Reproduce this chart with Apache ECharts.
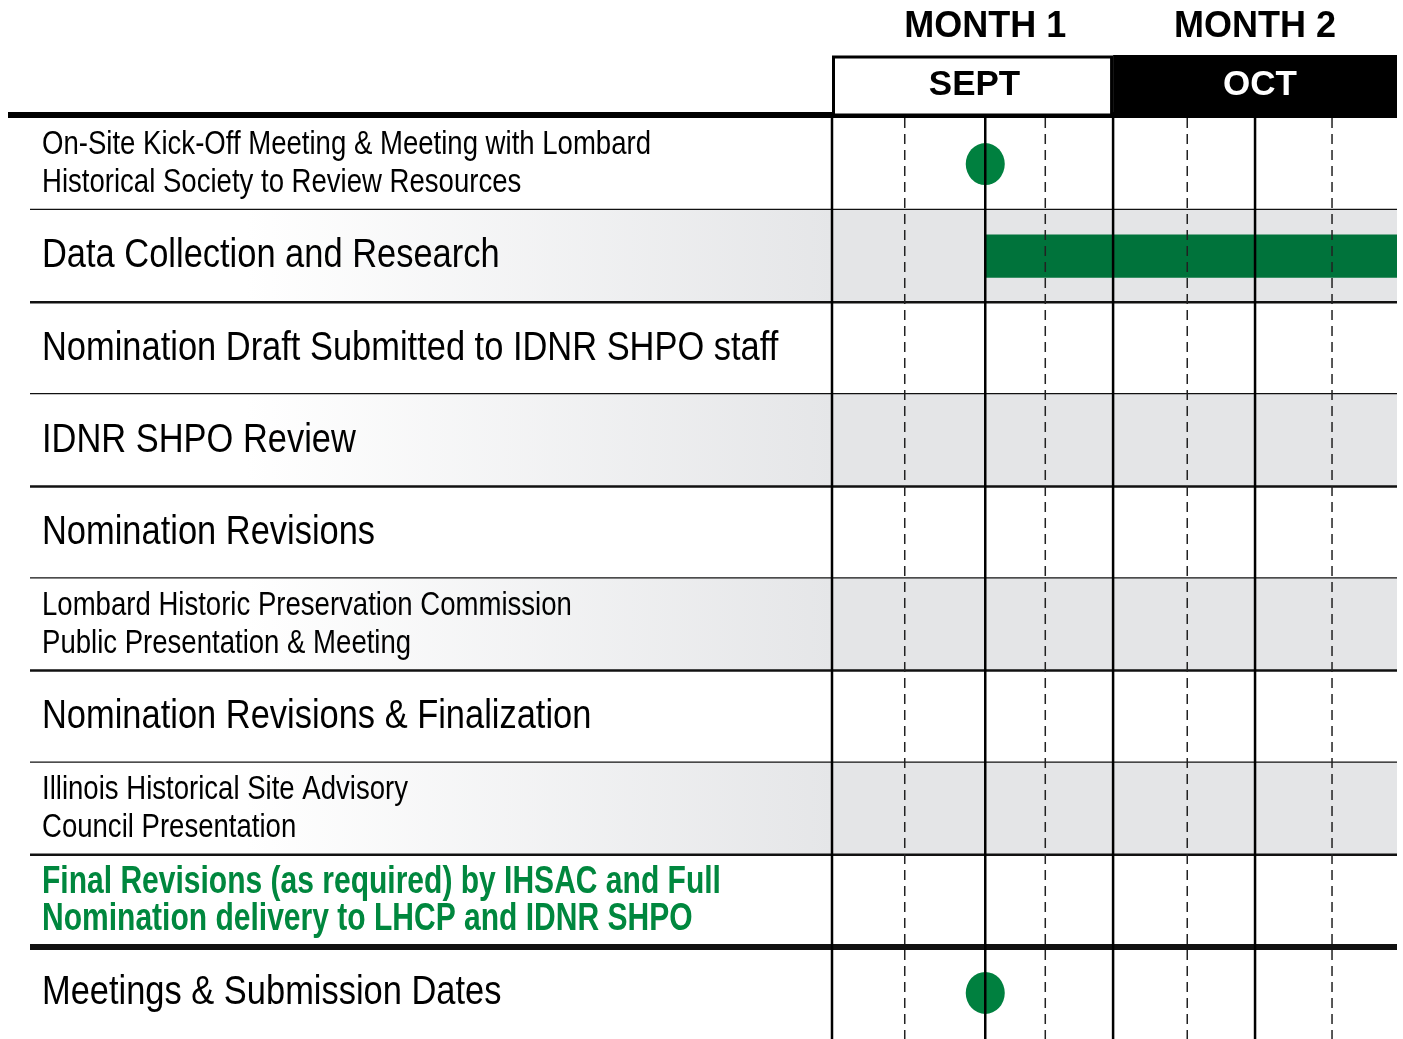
<!DOCTYPE html>
<html>
<head>
<meta charset="utf-8">
<script src="https://cdn.jsdelivr.net/npm/echarts@6/dist/echarts.min.js"></script>
<style>
html,body{margin:0;padding:0;background:#fff;}
#chart{width:1403px;height:1039px;}
</style>
</head>
<body>
<div id="chart"></div>
<script>
// ---- data ----
const tasks = [
  'On-Site Kick-Off Meeting & Meeting with Lombard\nHistorical Society to Review Resources',
  'Data Collection and Research',
  'Nomination Draft Submitted to IDNR SHPO staff',
  'IDNR SHPO Review',
  'Nomination Revisions',
  'Lombard Historic Preservation Commission\nPublic Presentation & Meeting',
  'Nomination Revisions & Finalization',
  'Illinois Historical Site Advisory\nCouncil Presentation',
  'Final Revisions (as required) by IHSAC and Full\nNomination delivery to LHCP and IDNR SHPO',
  'Meetings & Submission Dates'
];
const labelKind = ['s', 'b', 'b', 'b', 'b', 's', 'b', 's', 'g', 'b'];
const shadedRows = [1, 3, 5, 7];
const monthTitles = ['MONTH 1', 'MONTH 2'];
const monthNames = ['SEPT', 'OCT'];
const monthStart = [0, 3.98];
const monthEnd = [3.98, 8];
const monthTitleAt = [2.17, 5.99];
const weekLines = [0, 1.03, 2.17, 3.02, 3.98, 5.03, 5.99, 7.08];
const weekSolid = [1, 0, 1, 0, 1, 0, 1, 0];
const milestones = [[2.17, 0], [2.17, 9]];
const bars = [[2.17, 1, 8]];

// ---- style ----
const SANS = "'Liberation Sans','Arial','Helvetica',sans-serif";
const GREEN_TXT = '#00873e';
const labelStyle = {
  s: {font: '33px ' + SANS, lineHeight: 38, fill: '#000', scaleX: 0.835},
  b: {font: '41px ' + SANS, lineHeight: 48, fill: '#000', scaleX: 0.84},
  g: {font: 'bold 38px ' + SANS, lineHeight: 37, fill: GREEN_TXT, scaleX: 0.79}
};

const chart = echarts.init(document.getElementById('chart'), null, {renderer: 'canvas'});

const bgSeries = {
  type: 'custom', clip: false, silent: true, z: 1,
  data: tasks.map((t, i) => [0, i]),
  encode: {x: 0, y: 1},
  renderItem: function (params, api) {
    const cs = params.coordSys;
    const row = api.value(1);
    const c = api.coord([0, row]);
    const h = api.size([0, 1])[1];
    const top = c[1] - h / 2, bottom = c[1] + h / 2;
    const right = cs.x + cs.width;
    const ch = [];
    if (shadedRows.indexOf(row) >= 0) {
      ch.push({type: 'rect', shape: {x: 30, y: top, width: cs.x - 30, height: h},
        style: {fill: new echarts.graphic.LinearGradient(0, 0, 1, 0, [
          {offset: 0, color: '#ffffff'}, {offset: 0.27, color: '#ffffff'}, {offset: 1, color: '#e5e6e8'}])}});
      ch.push({type: 'rect', shape: {x: cs.x, y: top, width: cs.width, height: h},
        style: {fill: '#e4e5e7'}});
    }
    if (row === 0) {
      ch.push({type: 'line', shape: {x1: 8, y1: top - 3, x2: right, y2: top - 3},
        style: {stroke: '#000', lineWidth: 6}});
    }
    if (row < tasks.length - 1) {
      const thick = row === tasks.length - 2;
      ch.push({type: 'line', shape: {x1: 30, y1: bottom, x2: right, y2: bottom},
        style: {stroke: '#111', lineWidth: thick ? 6 : 2.5}});
    }
    return {type: 'group', children: ch};
  }
};

const labelSeries = {
  type: 'custom', clip: false, silent: true, z: 8,
  data: tasks.map((t, i) => [0, i]),
  encode: {x: 0, y: 1},
  renderItem: function (params, api) {
    const row = api.value(1);
    const c = api.coord([0, row]);
    const st = labelStyle[labelKind[row]];
    return {type: 'text', x: 42, y: c[1], scaleX: st.scaleX,
      style: {text: tasks[row], font: st.font, lineHeight: st.lineHeight, fill: st.fill,
        align: 'left', verticalAlign: 'middle'}};
  }
};

const barSeries = {
  type: 'custom', z: 3, silent: true,
  data: bars,
  encode: {x: [0, 2], y: 1},
  renderItem: function (params, api) {
    const p0 = api.coord([api.value(0), api.value(1)]);
    const p1 = api.coord([api.value(2), api.value(1)]);
    const h = api.size([0, 1])[1] * 0.47;
    return {type: 'rect', shape: {x: p0[0], y: p0[1] - h / 2, width: p1[0] - p0[0], height: h},
      style: {fill: '#00733b'}};
  }
};

const dotSeries = {
  type: 'scatter', z: 4, silent: true,
  data: milestones,
  symbol: 'circle', symbolSize: [39, 42],
  itemStyle: {color: '#00803f', opacity: 1}
};

const vlineSeries = {
  type: 'custom', clip: false, silent: true, z: 6,
  data: weekLines.map((v, i) => [v, 0, weekSolid[i]]),
  encode: {x: 0, y: 1},
  renderItem: function (params, api) {
    const cs = params.coordSys;
    const x = api.coord([api.value(0), 0])[0];
    const solid = api.value(2) === 1;
    return {type: 'line', shape: {x1: x, y1: cs.y, x2: x, y2: cs.y + cs.height},
      style: {stroke: solid ? '#000' : '#222', lineWidth: solid ? 2.5 : 1.5, lineDash: solid ? null : [10, 6]}};
  }
};

const headerSeries = {
  type: 'custom', clip: false, silent: true, z: 7,
  data: monthNames.map((m, i) => [monthStart[i], 0, monthEnd[i], monthTitleAt[i], i]),
  encode: {x: [0, 2], y: 1},
  renderItem: function (params, api) {
    const cs = params.coordSys;
    const i = api.value(4);
    const x0 = api.coord([api.value(0), 0])[0];
    const x1 = api.coord([api.value(2), 0])[0];
    const xt = api.coord([api.value(3), 0])[0];
    const ch = [];
    if (i === 0) {
      ch.push({type: 'rect', shape: {x: x0 + 1.5, y: cs.y - 61, width: x1 - x0 - 3, height: 58},
        style: {fill: '#fff', stroke: '#000', lineWidth: 3}});
    } else {
      ch.push({type: 'rect', shape: {x: x0, y: cs.y - 63, width: x1 - x0, height: 63},
        style: {fill: '#000'}});
    }
    ch.push({type: 'text', x: (x0 + x1) / 2 + (i === 0 ? 2 : 5), y: cs.y - 33,
      style: {text: monthNames[i], fill: i === 0 ? '#000' : '#fff', font: 'bold 35px ' + SANS,
        align: 'center', verticalAlign: 'middle'}});
    ch.push({type: 'text', x: xt, y: 27,
      style: {text: monthTitles[i], fill: '#000', font: 'bold 36px ' + SANS,
        align: 'center', verticalAlign: 'middle'}});
    return {type: 'group', children: ch};
  }
};

chart.setOption({
  animation: false,
  backgroundColor: '#fff',
  grid: {left: 832, right: 6, top: 118, bottom: 0, containLabel: false},
  xAxis: {type: 'value', min: 0, max: 8, show: false},
  yAxis: {
    type: 'category', inverse: true, data: tasks,
    axisLine: {show: false}, axisTick: {show: false}, splitLine: {show: false},
    axisLabel: {show: false}
  },
  series: [bgSeries, barSeries, dotSeries, vlineSeries, headerSeries, labelSeries]
});
</script>
</body>
</html>
